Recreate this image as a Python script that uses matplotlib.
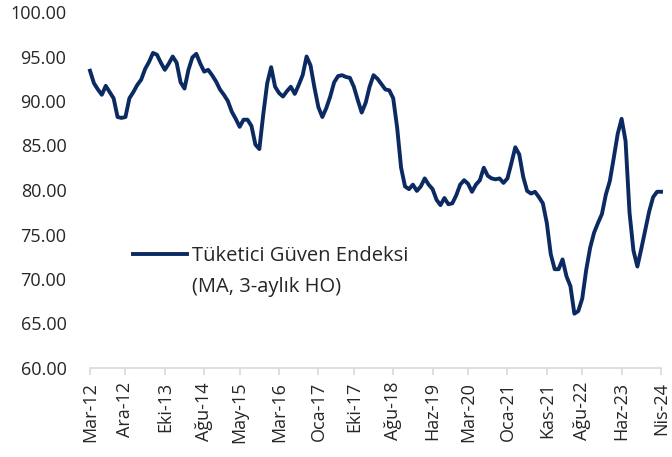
import matplotlib
matplotlib.use("Agg")
import matplotlib.pyplot as plt
from matplotlib.lines import Line2D
import pandas as pd

plt.rcParams['font.family'] = ['Open Sans', 'DejaVu Sans']

# Monthly index, Mar-2012 .. Apr-2024
months = pd.date_range("2012-03-01", "2024-04-01", freq="MS")

values = [
    93.4, 92.0, 91.3, 90.7, 91.7, 91.0, 90.3, 88.2, 88.1, 88.2,   # 0-9
    90.3, 91.0, 91.8, 92.4, 93.6, 94.4, 95.4, 95.2, 94.3, 93.5,   # 10-19
    94.2, 95.0, 94.3, 92.1, 91.4, 93.5, 94.9, 95.3, 94.2, 93.3,   # 20-29
    93.5, 92.9, 92.2, 91.3, 90.7, 90.0, 88.8, 88.0, 87.1, 87.9,   # 30-39
    87.9, 87.2, 85.1, 84.6, 88.5, 92.0, 93.8, 91.6, 90.9, 90.5,   # 40-49
    91.1, 91.6, 90.8, 91.8, 92.9, 95.0, 94.0, 91.5, 89.3, 88.2,   # 50-59
    89.2, 90.5, 92.1, 92.8, 92.9, 92.7, 92.6, 91.6, 90.1, 88.7,   # 60-69
    89.8, 91.6, 92.9, 92.5, 91.9, 91.3, 91.2, 90.3, 87.0, 82.5,   # 70-79
    80.4, 80.1, 80.6, 79.9, 80.4, 81.3, 80.6, 80.1, 78.9, 78.3,   # 80-89
    79.1, 78.4, 78.5, 79.4, 80.6, 81.1, 80.7, 79.8, 80.6, 81.1,   # 90-99
    82.5, 81.6, 81.3, 81.2, 81.3, 80.8, 81.3, 83.0, 84.8, 84.0,   # 100-109
    81.5, 79.9, 79.6, 79.8, 79.2, 78.5, 76.3, 72.8, 71.1, 71.1,   # 110-119
    72.2, 70.3, 69.2, 66.1, 66.4, 67.8, 71.0, 73.5, 75.2, 76.3,   # 120-129
    77.3, 79.5, 81.0, 83.6, 86.3, 88.0, 85.5, 77.5, 73.2, 71.4,   # 130-139
    73.4, 75.5, 77.6, 79.2, 79.8, 79.8,                           # 140-145
]

tick_labels = ["Mar-12", "Ara-12", "Eki-13", "Ağu-14", "May-15", "Mar-16",
               "Oca-17", "Eki-17", "Ağu-18", "Haz-19", "Mar-20", "Oca-21",
               "Kas-21", "Ağu-22", "Haz-23", "Nis-24"]
tick_dates = ["2012-03", "2012-12", "2013-10", "2014-08", "2015-05", "2016-03",
              "2017-01", "2017-10", "2018-08", "2019-06", "2020-03", "2021-01",
              "2021-11", "2022-08", "2023-06", "2024-04"]

y_ticks = [60, 65, 70, 75, 80, 85, 90, 95, 100]

series_label = "Tüketici Güven Endeksi"
series_label2 = "(MA, 3-aylık HO)"

color = "#0B2A62"
text_color = "#262626"
tick_fs = 13
leg_fs = 14.5
lw = 2.8

fig = plt.figure(figsize=(6.72, 4.57), dpi=100)
ax = fig.add_axes([90/672, 1-368/457, (661-90)/672, (368-12)/457])

x = list(range(len(months)))
month_pos = {d.strftime("%Y-%m"): i for i, d in enumerate(months)}
ax.plot(x, values, color=color, lw=lw, solid_joinstyle='round', clip_on=False)

ax.set_xlim(0, len(months)-1)
ax.set_ylim(60, 100)
ax.set_yticks(y_ticks)
ax.set_yticklabels([f"{v:.2f}" for v in y_ticks])
ax.set_xticks([month_pos[d] for d in tick_dates])
ax.set_xticklabels(tick_labels, rotation=90)

for s in ["top", "right", "left"]:
    ax.spines[s].set_visible(False)
ax.spines["bottom"].set_color("#d9d9d9")
ax.spines["bottom"].set_linewidth(1.2)
ax.tick_params(axis="y", length=0, pad=17, labelsize=tick_fs, labelcolor=text_color)
ax.tick_params(axis="x", length=5, width=1.2, color="#d9d9d9", pad=5,
               labelsize=tick_fs, labelcolor=text_color)

handle = Line2D([], [], color=color, lw=lw)
fs_px = leg_fs * 100 / 72
leg = ax.legend([handle], [series_label], frameon=False, loc="center left",
                bbox_to_anchor=(133/672, 1-256/457), bbox_transform=fig.transFigure,
                borderpad=0, borderaxespad=0, handlelength=54/fs_px,
                handletextpad=5/fs_px, prop={"size": leg_fs})
for t in leg.get_texts():
    t.set_color(text_color)
fig.text(192/672, 1-287/457, series_label2, va="center", ha="left",
         fontsize=leg_fs, color=text_color)

fig.savefig("out.png", dpi=100)
